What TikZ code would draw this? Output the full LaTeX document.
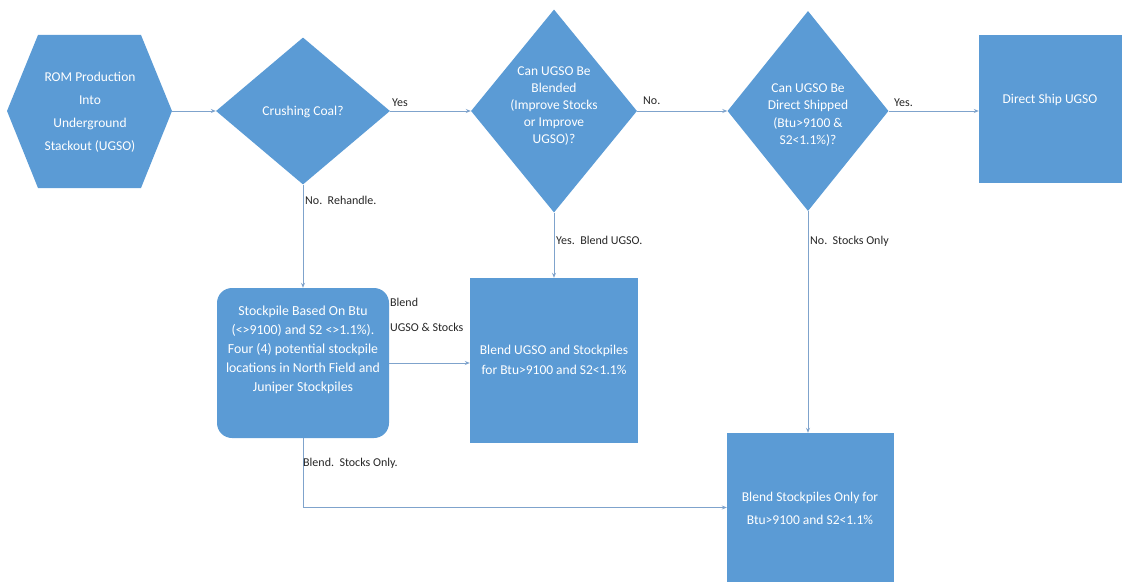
\documentclass[tikz,border=0pt]{standalone}
\usepackage{fontspec}
\setmainfont{Carlito}
\usetikzlibrary{shapes.geometric,arrows.meta}
\definecolor{boxblue}{HTML}{5B9BD5}
\definecolor{linecol}{HTML}{7FA3CC}
\definecolor{labcol}{HTML}{262626}
\begin{document}
\begin{tikzpicture}[x=1pt,y=-1pt,
  shapefill/.style={fill=boxblue,draw=none},
  dia/.style={shapefill,diamond,inner sep=0pt},
  boxnode/.style={shapefill,rectangle,inner sep=0pt},
  intext/.style={text=white,align=center,font=\fontsize{13.5}{17}\selectfont,inner sep=0pt},
  lab/.style={text=labcol,font=\fontsize{12}{14}\selectfont,inner sep=0pt,anchor=west},
  conn/.style={draw=linecol,line width=0.8pt,-{Stealth[length=5pt,width=4pt]}},
  plain/.style={draw=linecol,line width=0.8pt}
]
\useasboundingbox (0,0) rectangle (1138,583);

% hexagon
\fill[boxblue] (7,111) -- (38,35) -- (141,35) -- (172,111) -- (141,188) -- (38,188) -- cycle;
\node[minimum width=165pt,minimum height=153pt,inner sep=0pt] (hex) at (89.5,111) {};
\node[intext,font=\fontsize{13.5}{23}\selectfont] (hext) at (90,112) {ROM Production\\Into\\Underground\\Stackout (UGSO)};

% diamonds
\node[dia,minimum width=174pt,minimum height=147pt] (d1) at (303,111) {};
\node[intext] (d1t) at (303,112) {Crushing Coal?};
\node[dia,minimum width=166pt,minimum height=203pt] (d2) at (554,111) {};
\node[intext] (d2t) at (554,106) {Can UGSO Be\\Blended\\(Improve Stocks\\or Improve\\UGSO)?};
\node[dia,minimum width=161pt,minimum height=200pt] (d3) at (808,111) {};
\node[intext,font=\fontsize{13.5}{17.5}\selectfont] (d3t) at (808,115) {Can UGSO Be\\Direct Shipped\\(Btu>9100 \&\\S2<1.1\%)?};

% boxes
\node[boxnode,minimum width=143pt,minimum height=148pt] (ship) at (1050.5,109) {};
\node[intext] (shipt) at (1050,100) {Direct Ship UGSO};
\node[boxnode,rounded corners=15pt,minimum width=172pt,minimum height=150pt] (stock) at (303,363) {};
\node[intext,font=\fontsize{13.8}{19}\selectfont] (stockt) at (303,350) {Stockpile Based On Btu\\(<>9100) and S2 <>1.1\%).\\Four (4) potential stockpile\\locations in North Field and\\Juniper Stockpiles};
\node[boxnode,minimum width=168pt,minimum height=165pt] (b2) at (554,360.5) {};
\node[intext,font=\fontsize{13.5}{20}\selectfont] (b2t) at (554,360) {Blend UGSO and Stockpiles\\for Btu>9100 and S2<1.1\%};
\node[boxnode,minimum width=167pt,minimum height=149pt] (b4) at (810.5,507.5) {};
\node[intext,font=\fontsize{13.5}{23}\selectfont] (b4t) at (810,508) {Blend Stockpiles Only for\\Btu>9100 and S2<1.1\%};

% connectors
\draw[conn] (hex.east) -- (d1.west);
\draw[conn] (d1.east) -- (d2.west);
\draw[conn] (d2.east) -- (d3.west);
\draw[conn] (d3.east) -- (d3.east -| ship.west);
\draw[conn] (d1.south) -- (stock.north);
\draw[conn] (d2.south) -- (b2.north);
\draw[conn] (d3.south) -- (d3.south |- b4.north);
\draw[conn] (stock.east) -- (stock.east -| b2.west);
\draw[conn] (stock.south) |- (b4.west);

% labels
\node[lab] (lyes1) at (392,103) {Yes};
\node[lab] (lno1) at (643,101) {No.};
\node[lab] (lyes2) at (894,103) {Yes.};
\node[lab] (lreh) at (305,200) {No.\ \ Rehandle.};
\node[lab] (lblu) at (556,240) {Yes.\ \ Blend UGSO.};
\node[lab] (lsto) at (810,241) {No.\ \ Stocks Only};
\node[lab] (lbl) at (390,302) {Blend};
\node[lab] (lus) at (390,327) {UGSO \& Stocks};
\node[lab] (lbso) at (303,463) {Blend.\ \ Stocks Only.};
\end{tikzpicture}
\end{document}
